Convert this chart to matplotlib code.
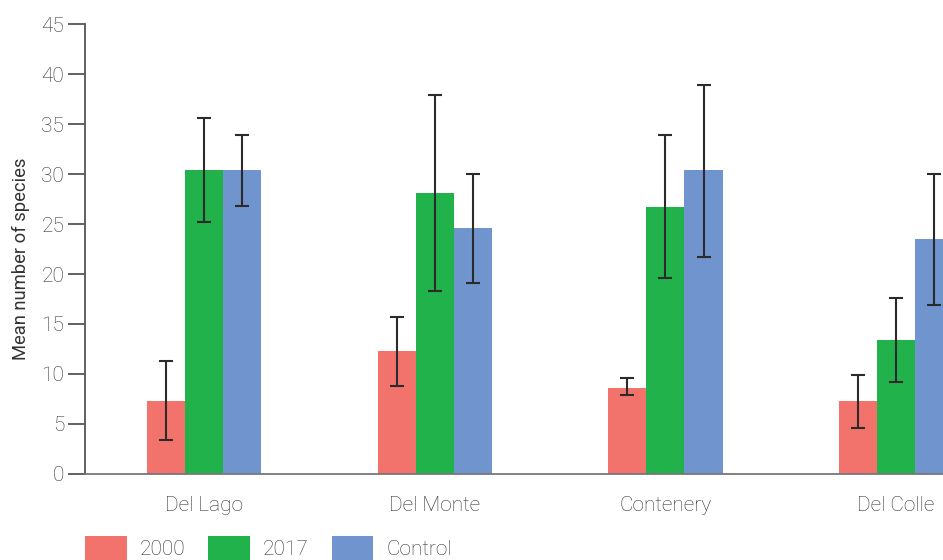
import numpy as np
import matplotlib
matplotlib.use('Agg')
import matplotlib.pyplot as plt
from matplotlib.patches import Patch

plt.rcParams['font.family'] = ['Roboto', 'DejaVu Sans']
plt.rcParams['font.weight'] = 'light'

sites = ['Del Lago', 'Del Monte', 'Contenery', 'Del Colle']
series = ['2000', '2017', 'Control']
colors = ['#F2736B', '#21B24B', '#7094CD']

mean_2000 = [7.3, 12.3, 8.6, 7.3]
mean_2017 = [30.4, 28.1, 26.7, 13.4]
mean_ctrl = [30.4, 24.6, 30.4, 23.5]

# error bar extents (low, high)
lo_2000 = [3.4, 8.8, 7.9, 4.6]
hi_2000 = [11.3, 15.7, 9.6, 9.9]
lo_2017 = [25.2, 18.3, 19.6, 9.2]
hi_2017 = [35.6, 37.9, 33.9, 17.6]
lo_ctrl = [26.8, 19.1, 21.7, 16.9]
hi_ctrl = [33.9, 30.0, 38.9, 30.0]

means = [mean_2000, mean_2017, mean_ctrl]
lows = [lo_2000, lo_2017, lo_ctrl]
highs = [hi_2000, hi_2017, hi_ctrl]

fs = 15
txt = '#333333'

fig = plt.figure(figsize=(9.43, 5.6), dpi=100)
ax = fig.add_axes([0.0901, 0.1536, 0.9099, 0.8035])

x = np.arange(len(sites))
w = 0.165
for i in range(3):
    m = np.array(means[i])
    err = np.vstack([m - np.array(lows[i]), np.array(highs[i]) - m])
    xs = x + (i - 1) * w
    ax.bar(xs, m, width=w, color=colors[i], linewidth=0, zorder=2)
    ax.errorbar(xs, m, yerr=err, fmt='none', ecolor='#2b2b2b',
                elinewidth=1.5, capsize=5, capthick=1.5, zorder=3)

ax.set_xlim(-0.516, 3.203)
ax.set_ylim(0, 45)
ax.set_yticks(np.arange(0, 46, 5))
ax.set_xticks(x)
ax.set_xticklabels(sites)

for s in ['top', 'right']:
    ax.spines[s].set_visible(False)
ax.spines['left'].set_color('#555555')
ax.spines['bottom'].set_color('#777777')
ax.spines['left'].set_linewidth(1.3)
ax.spines['bottom'].set_linewidth(1.3)

ax.tick_params(axis='y', length=12, width=1.3, color='#555555', pad=3,
               labelsize=fs, labelcolor=txt)
ax.tick_params(axis='x', length=0, pad=16, labelsize=fs, labelcolor=txt)
ax.set_ylabel('Mean number of species', fontsize=13.2, color=txt)
ax.yaxis.set_label_coords(-0.064, 0.478)

handles = [Patch(facecolor=c, edgecolor='none') for c in colors]
fig.legend(handles, series, loc='upper left', bbox_to_anchor=(0.09, 0.042),
           ncol=3, frameon=False, fontsize=fs, handlelength=2.0,
           handleheight=1.35, handletextpad=0.63, columnspacing=1.1,
           borderpad=0, borderaxespad=0, labelcolor=txt)

fig.savefig('out.png', dpi=100)
